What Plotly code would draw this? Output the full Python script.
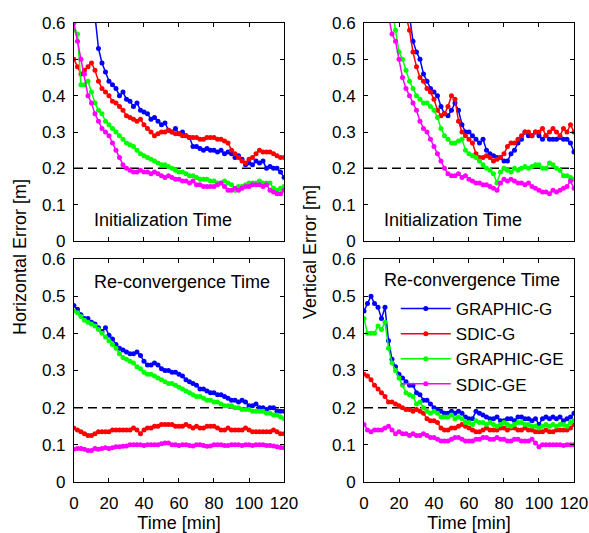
import plotly.graph_objects as go

T = list(range(0, 121, 2))
THRESHOLD = 0.2
SERIES = ["GRAPHIC-G", "SDIC-G", "GRAPHIC-GE", "SDIC-GE"]
COLORS = ["#0000FF", "#FF0000", "#00FF00", "#FF00FF"]

# Horizontal error, initialization time
H_INIT_GRAPHIC_G = [1.20, 1.10, 1.00, 0.90, 0.80, 0.70, 0.62, 0.53, 0.49, 0.465,
                    0.44, 0.43, 0.42, 0.40, 0.41, 0.39, 0.385, 0.37, 0.38, 0.36,
                    0.355, 0.35, 0.335, 0.34, 0.33, 0.32, 0.325, 0.305, 0.30, 0.31,
                    0.295, 0.30, 0.29, 0.285, 0.26, 0.26, 0.255, 0.25, 0.255, 0.25,
                    0.25, 0.245, 0.25, 0.24, 0.245, 0.24, 0.23, 0.235, 0.225, 0.21,
                    0.215, 0.21, 0.22, 0.215, 0.22, 0.20, 0.205, 0.20, 0.20, 0.19,
                    0.175]
H_INIT_SDIC_G = [0.50, 0.48, 0.46, 0.47, 0.48, 0.49, 0.47, 0.44, 0.42, 0.41,
                 0.40, 0.385, 0.38, 0.37, 0.36, 0.345, 0.34, 0.335, 0.33, 0.335,
                 0.32, 0.31, 0.30, 0.29, 0.295, 0.30, 0.30, 0.305, 0.30, 0.295,
                 0.295, 0.29, 0.29, 0.285, 0.285, 0.285, 0.28, 0.28, 0.285, 0.285,
                 0.285, 0.28, 0.28, 0.275, 0.27, 0.25, 0.24, 0.23, 0.22, 0.215,
                 0.225, 0.23, 0.24, 0.25, 0.245, 0.245, 0.245, 0.24, 0.235, 0.23,
                 0.23]
H_INIT_GRAPHIC_GE = [0.58, 0.57, 0.43, 0.43, 0.44, 0.41, 0.38, 0.36, 0.35, 0.33,
                     0.32, 0.31, 0.30, 0.29, 0.28, 0.27, 0.265, 0.26, 0.25, 0.24,
                     0.235, 0.23, 0.225, 0.22, 0.215, 0.21, 0.21, 0.205, 0.20, 0.195,
                     0.19, 0.19, 0.185, 0.18, 0.18, 0.175, 0.17, 0.17, 0.17, 0.165,
                     0.165, 0.16, 0.16, 0.165, 0.16, 0.155, 0.14, 0.15, 0.15, 0.155,
                     0.16, 0.16, 0.16, 0.165, 0.16, 0.16, 0.16, 0.145, 0.14, 0.145,
                     0.15]
H_INIT_SDIC_GE = [0.60, 0.55, 0.50, 0.46, 0.40, 0.38, 0.35, 0.33, 0.31, 0.30,
                  0.29, 0.27, 0.25, 0.23, 0.21, 0.20, 0.195, 0.19, 0.19, 0.195,
                  0.19, 0.19, 0.185, 0.19, 0.185, 0.18, 0.175, 0.18, 0.175, 0.17,
                  0.17, 0.165, 0.165, 0.16, 0.165, 0.155, 0.155, 0.15, 0.15, 0.15,
                  0.15, 0.155, 0.16, 0.15, 0.14, 0.14, 0.145, 0.14, 0.145, 0.15,
                  0.15, 0.155, 0.155, 0.155, 0.15, 0.155, 0.14, 0.135, 0.13, 0.13,
                  0.14]

# Vertical error, initialization time
V_INIT_GRAPHIC_G = [1.60, 1.50, 1.40, 1.30, 1.20, 1.10, 1.00, 0.90, 0.82, 0.76,
                    0.72, 0.68, 0.65, 0.62, 0.55, 0.52, 0.50, 0.46, 0.44, 0.42,
                    0.41, 0.40, 0.37, 0.35, 0.345, 0.36, 0.38, 0.36, 0.32, 0.30,
                    0.30, 0.29, 0.28, 0.27, 0.28, 0.25, 0.24, 0.235, 0.23, 0.23,
                    0.22, 0.22, 0.24, 0.25, 0.27, 0.28, 0.30, 0.29, 0.29, 0.30,
                    0.29, 0.28, 0.29, 0.28, 0.28, 0.28, 0.285, 0.28, 0.28, 0.27,
                    0.245]
V_INIT_SDIC_G = [1.50, 1.40, 1.30, 1.20, 1.10, 1.00, 0.92, 0.85, 0.78, 0.72,
                 0.68, 0.65, 0.62, 0.58, 0.52, 0.48, 0.45, 0.44, 0.42, 0.41,
                 0.39, 0.36, 0.345, 0.35, 0.37, 0.40, 0.39, 0.33, 0.30, 0.29,
                 0.28, 0.27, 0.24, 0.23, 0.23, 0.235, 0.23, 0.22, 0.225, 0.23,
                 0.24, 0.26, 0.27, 0.27, 0.28, 0.29, 0.30, 0.30, 0.29, 0.30,
                 0.30, 0.31, 0.29, 0.30, 0.31, 0.30, 0.29, 0.31, 0.30, 0.32,
                 0.30]
V_INIT_GRAPHIC_GE = [1.30, 1.20, 1.10, 1.00, 0.92, 0.84, 0.76, 0.70, 0.64, 0.58,
                     0.52, 0.50, 0.47, 0.44, 0.42, 0.40, 0.39, 0.38, 0.38, 0.37,
                     0.36, 0.34, 0.31, 0.29, 0.28, 0.27, 0.27, 0.275, 0.28, 0.25,
                     0.24, 0.235, 0.23, 0.22, 0.21, 0.20, 0.195, 0.185, 0.16, 0.19,
                     0.20, 0.195, 0.19, 0.20, 0.195, 0.20, 0.205, 0.20, 0.205, 0.21,
                     0.21, 0.20, 0.20, 0.215, 0.21, 0.20, 0.195, 0.18, 0.18, 0.175,
                     0.17]
V_INIT_SDIC_GE = [1.10, 1.00, 0.92, 0.85, 0.78, 0.72, 0.67, 0.62, 0.57, 0.55,
                  0.50, 0.45, 0.42, 0.40, 0.38, 0.36, 0.33, 0.31, 0.30, 0.28,
                  0.26, 0.24, 0.22, 0.20, 0.185, 0.18, 0.18, 0.185, 0.175, 0.18,
                  0.17, 0.165, 0.16, 0.16, 0.155, 0.155, 0.15, 0.145, 0.14, 0.16,
                  0.17, 0.165, 0.17, 0.165, 0.16, 0.16, 0.155, 0.16, 0.15, 0.145,
                  0.14, 0.135, 0.135, 0.13, 0.14, 0.135, 0.14, 0.145, 0.15, 0.165,
                  0.145]

# Horizontal error, re-convergence time
H_RECON_GRAPHIC_G = [0.475, 0.465, 0.45, 0.44, 0.44, 0.43, 0.425, 0.415, 0.405, 0.415,
                     0.395, 0.385, 0.37, 0.36, 0.355, 0.35, 0.345, 0.345, 0.35, 0.34,
                     0.325, 0.315, 0.315, 0.32, 0.315, 0.305, 0.30, 0.30, 0.295, 0.295,
                     0.29, 0.285, 0.275, 0.27, 0.265, 0.26, 0.25, 0.25, 0.245, 0.24,
                     0.24, 0.235, 0.235, 0.23, 0.225, 0.22, 0.22, 0.215, 0.22, 0.215,
                     0.205, 0.205, 0.21, 0.20, 0.20, 0.195, 0.20, 0.20, 0.19, 0.19,
                     0.19]
H_RECON_SDIC_G = [0.145, 0.14, 0.135, 0.13, 0.125, 0.125, 0.13, 0.135, 0.135, 0.135,
                  0.135, 0.14, 0.14, 0.14, 0.14, 0.14, 0.14, 0.145, 0.14, 0.13,
                  0.14, 0.145, 0.145, 0.15, 0.15, 0.155, 0.155, 0.155, 0.155, 0.15,
                  0.15, 0.15, 0.155, 0.15, 0.145, 0.15, 0.145, 0.145, 0.15, 0.15,
                  0.15, 0.145, 0.14, 0.14, 0.145, 0.14, 0.14, 0.14, 0.14, 0.145,
                  0.14, 0.135, 0.135, 0.135, 0.135, 0.135, 0.135, 0.14, 0.135, 0.13,
                  0.13]
H_RECON_GRAPHIC_GE = [0.46, 0.455, 0.445, 0.435, 0.43, 0.425, 0.42, 0.41, 0.40, 0.39,
                      0.38, 0.37, 0.36, 0.345, 0.335, 0.33, 0.325, 0.32, 0.31, 0.305,
                      0.295, 0.29, 0.29, 0.285, 0.28, 0.275, 0.27, 0.265, 0.265, 0.26,
                      0.255, 0.25, 0.245, 0.24, 0.235, 0.23, 0.23, 0.225, 0.22, 0.22,
                      0.215, 0.215, 0.21, 0.205, 0.205, 0.205, 0.20, 0.20, 0.195, 0.195,
                      0.195, 0.19, 0.19, 0.19, 0.19, 0.185, 0.185, 0.18, 0.18, 0.175,
                      0.17]
H_RECON_SDIC_GE = [0.088, 0.09, 0.09, 0.088, 0.085, 0.085, 0.09, 0.088, 0.09, 0.092,
                   0.09, 0.092, 0.095, 0.095, 0.096, 0.097, 0.10, 0.10, 0.10, 0.10,
                   0.098, 0.10, 0.10, 0.10, 0.10, 0.103, 0.105, 0.105, 0.10, 0.10,
                   0.098, 0.10, 0.10, 0.098, 0.097, 0.10, 0.10, 0.098, 0.096, 0.097,
                   0.10, 0.10, 0.10, 0.098, 0.098, 0.10, 0.10, 0.10, 0.098, 0.10,
                   0.10, 0.098, 0.10, 0.10, 0.10, 0.098, 0.098, 0.097, 0.095, 0.093,
                   0.092]

# Vertical error, re-convergence time
V_RECON_GRAPHIC_G = [0.46, 0.48, 0.50, 0.48, 0.47, 0.44, 0.47, 0.38, 0.33, 0.31,
                     0.29, 0.28, 0.27, 0.26, 0.26, 0.24, 0.235, 0.22, 0.22, 0.21,
                     0.20, 0.195, 0.19, 0.185, 0.185, 0.19, 0.185, 0.19, 0.185, 0.175,
                     0.17, 0.17, 0.19, 0.185, 0.18, 0.175, 0.17, 0.17, 0.175, 0.165,
                     0.165, 0.17, 0.17, 0.165, 0.175, 0.175, 0.17, 0.17, 0.165, 0.17,
                     0.155, 0.17, 0.175, 0.17, 0.175, 0.17, 0.175, 0.165, 0.17, 0.175,
                     0.185]
V_RECON_SDIC_G = [0.29, 0.285, 0.275, 0.26, 0.25, 0.24, 0.23, 0.215, 0.215, 0.21,
                  0.205, 0.20, 0.195, 0.195, 0.19, 0.195, 0.19, 0.185, 0.17, 0.165,
                  0.165, 0.16, 0.145, 0.14, 0.14, 0.145, 0.145, 0.15, 0.155, 0.15,
                  0.145, 0.14, 0.135, 0.135, 0.14, 0.145, 0.14, 0.14, 0.14, 0.145,
                  0.145, 0.14, 0.145, 0.145, 0.14, 0.14, 0.145, 0.14, 0.14, 0.135,
                  0.135, 0.135, 0.14, 0.135, 0.135, 0.14, 0.14, 0.14, 0.14, 0.145,
                  0.155]
V_RECON_GRAPHIC_GE = [0.44, 0.40, 0.40, 0.40, 0.42, 0.41, 0.43, 0.36, 0.32, 0.30,
                      0.28, 0.26, 0.24, 0.235, 0.23, 0.21, 0.215, 0.20, 0.19, 0.185,
                      0.19, 0.185, 0.175, 0.175, 0.175, 0.18, 0.17, 0.175, 0.17, 0.16,
                      0.16, 0.155, 0.165, 0.16, 0.16, 0.155, 0.16, 0.155, 0.15, 0.155,
                      0.16, 0.155, 0.15, 0.155, 0.16, 0.16, 0.155, 0.155, 0.15, 0.15,
                      0.145, 0.15, 0.155, 0.15, 0.155, 0.15, 0.155, 0.155, 0.15, 0.16,
                      0.165]
V_RECON_SDIC_GE = [0.155, 0.14, 0.135, 0.14, 0.14, 0.14, 0.145, 0.15, 0.14, 0.13,
                   0.135, 0.13, 0.13, 0.125, 0.13, 0.125, 0.125, 0.13, 0.125, 0.12,
                   0.12, 0.115, 0.11, 0.11, 0.11, 0.115, 0.12, 0.12, 0.115, 0.11,
                   0.11, 0.11, 0.115, 0.115, 0.12, 0.12, 0.115, 0.115, 0.12, 0.115,
                   0.115, 0.11, 0.11, 0.115, 0.115, 0.11, 0.11, 0.11, 0.115, 0.105,
                   0.095, 0.10, 0.10, 0.10, 0.10, 0.10, 0.10, 0.098, 0.10, 0.10,
                   0.10]

PANELS = [
    ("x", "y", [H_INIT_GRAPHIC_G, H_INIT_SDIC_G, H_INIT_GRAPHIC_GE, H_INIT_SDIC_GE]),
    ("x2", "y2", [V_INIT_GRAPHIC_G, V_INIT_SDIC_G, V_INIT_GRAPHIC_GE, V_INIT_SDIC_GE]),
    ("x3", "y3", [H_RECON_GRAPHIC_G, H_RECON_SDIC_G, H_RECON_GRAPHIC_GE, H_RECON_SDIC_GE]),
    ("x4", "y4", [V_RECON_GRAPHIC_G, V_RECON_SDIC_G, V_RECON_GRAPHIC_GE, V_RECON_SDIC_GE]),
]

FONT = "Liberation Sans, Arial, sans-serif"
fig = go.Figure()

for pi, (xa, ya, data) in enumerate(PANELS):
    fig.add_trace(go.Scatter(x=[T[0], T[-1]], y=[THRESHOLD, THRESHOLD], xaxis=xa, yaxis=ya,
                             mode="lines", line=dict(color="black", width=1.5, dash="9px,5px"),
                             showlegend=False, hoverinfo="skip"))
    for name, color, vals in zip(SERIES, COLORS, data):
        fig.add_trace(go.Scatter(
            x=T, y=vals, xaxis=xa, yaxis=ya, name=name, mode="lines+markers",
            line=dict(color=color, width=1.5), marker=dict(color=color, size=5),
            showlegend=(pi == 3)))

XD = [[0.1256, 0.4822], [0.618, 0.9745]]
YD = [[0.5478, 0.9568], [0.0957, 0.5141]]

axis_common = dict(showline=True, linecolor="black", linewidth=1, mirror="ticks",
                   ticks="inside", ticklen=4, tickcolor="black", showgrid=False,
                   zeroline=False, automargin=False,
                   tickfont=dict(family=FONT, size=17, color="black"))

layout = dict(
    width=589, height=533, margin=dict(l=0, r=0, t=0, b=0, autoexpand=False),
    paper_bgcolor="white", plot_bgcolor="white",
    font=dict(family=FONT, size=17, color="black"),
    legend=dict(x=0.672, y=0.454, xanchor="left", yanchor="top", bgcolor="rgba(0,0,0,0)",
                font=dict(family=FONT, size=17, color="black"), tracegroupgap=0,
                itemwidth=50),
)
for i in range(4):
    r, c = divmod(i, 2)
    sfx = "" if i == 0 else str(i + 1)
    xa = dict(axis_common, domain=XD[c], range=[0, 120], tickvals=[0, 20, 40, 60, 80, 100, 120],
              anchor="y" + sfx, showticklabels=(r == 1), ticklabelstandoff=6)
    if r == 1:
        xa["title"] = dict(text="Time [min]", font=dict(family=FONT, size=18), standoff=3)
    ya = dict(axis_common, domain=YD[r], range=[0, 0.6],
              tickvals=[0, 0.1, 0.2, 0.3, 0.4, 0.5, 0.6],
              ticktext=["0", "0.1", "0.2", "0.3", "0.4", "0.5", "0.6"],
              anchor="x" + sfx, ticklabelstandoff=4)
    layout["xaxis" + sfx] = xa
    layout["yaxis" + sfx] = ya

annotations = [
    dict(text="Initialization Time", x=51, y=0.058, xref="x", yref="y", showarrow=False,
         font=dict(family=FONT, size=18)),
    dict(text="Initialization Time", x=51, y=0.058, xref="x2", yref="y2", showarrow=False,
         font=dict(family=FONT, size=18)),
    dict(text="Re-convergence Time", x=62, y=0.538, xref="x3", yref="y3", showarrow=False,
         font=dict(family=FONT, size=18)),
    dict(text="Re-convergence Time", x=62, y=0.543, xref="x4", yref="y4", showarrow=False,
         font=dict(family=FONT, size=18)),
    dict(text="Horizontal Error [m]", x=20 / 589, y=1 - 257 / 533, xref="paper", yref="paper",
         xanchor="center", yanchor="middle",
         textangle=-90, showarrow=False, font=dict(family=FONT, size=18)),
    dict(text="Vertical Error [m]", x=310 / 589, y=1 - 252 / 533, xref="paper", yref="paper",
         xanchor="center", yanchor="middle",
         textangle=-90, showarrow=False, font=dict(family=FONT, size=18)),
]
layout["annotations"] = annotations
fig.update_layout(**layout)
fig.write_html("out.html")
